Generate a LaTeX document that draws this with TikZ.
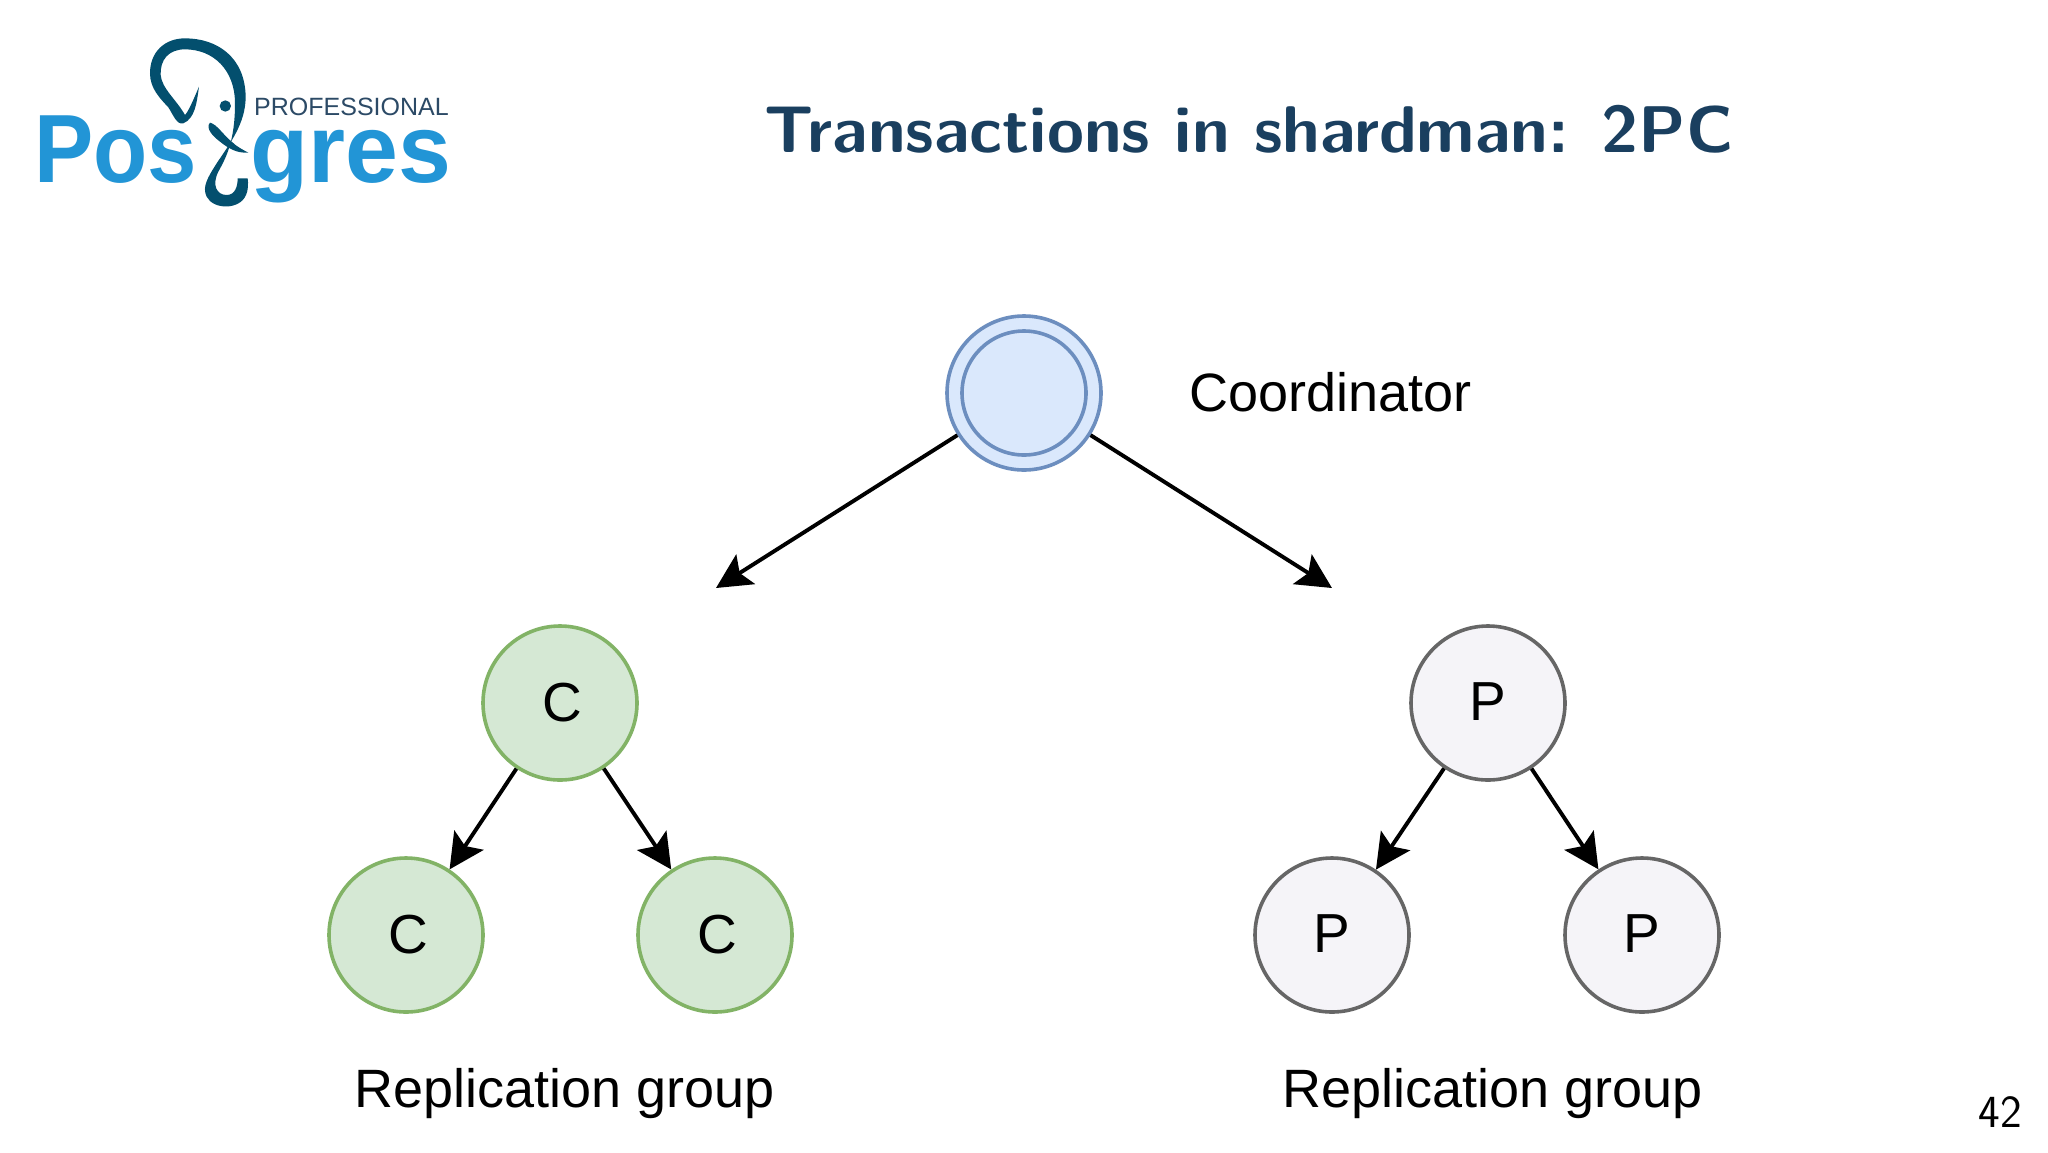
\documentclass[tikz,border=0pt]{standalone}
\usepackage{fontspec}
\usetikzlibrary{arrows.meta}
\setmainfont{Liberation Sans}
\newfontfamily\logofont{Liberation Sans Bold}
\definecolor{logoblue}{HTML}{2295D6}
\definecolor{logodark}{HTML}{034F6E}
\definecolor{logotext}{HTML}{2C4A66}
\definecolor{titleblue}{HTML}{1A3F5F}
\definecolor{blueline}{HTML}{6C8EBF}
\definecolor{bluefill}{HTML}{DAE8FC}
\definecolor{greenline}{HTML}{82B366}
\definecolor{greenfill}{HTML}{D5E8D4}
\definecolor{greyline}{HTML}{666666}
\definecolor{greyfill}{HTML}{F5F4F8}
\tikzset{
  px/.style={x=1pt,y=-1pt},
  base circle/.style={circle,inner sep=0pt,minimum size=154pt,line width=3.6pt,
     font=\fontsize{55}{60}\selectfont,text=black},
  greencirc/.style={base circle,draw=greenline,fill=greenfill},
  greycirc/.style={base circle,draw=greyline,fill=greyfill},
  bluecirc/.style={base circle,draw=blueline,fill=bluefill},
  bluecircin/.style={circle,inner sep=0pt,minimum size=124pt,line width=3.6pt,draw=blueline,fill=bluefill},
  conn/.style={line width=3.9pt,black,-{Stealth[length=35pt,width=35pt,inset=7pt]}},
  lab/.style={font=\fontsize{54}{60}\selectfont,text=black,inner sep=0pt},
}
\begin{document}
\begin{tikzpicture}[px]
\useasboundingbox (0,0) rectangle (2048,1152);
\fill[white] (0,0) rectangle (2048,1152);

% logo
\node[anchor=base west,inner sep=0pt,text=logoblue,font=\logofont\fontsize{97}{97}\selectfont] (logopos) at (34,182) {\scalebox{0.915}[1]{Pos}};
\node[anchor=base west,inner sep=0pt,text=logoblue,font=\logofont\fontsize{97}{97}\selectfont] (logogres) at (250,182) {\scalebox{0.98}[1]{gres}};
\node[anchor=base west,inner sep=0pt,text=logotext,font=\fontsize{25}{26}\selectfont] (logoprof) at (254,115) {PROFESSIONAL};
\begin{scope}[x=0.33333pt,y=-0.33333pt,yshift=-20pt]
\fill[logodark] (597,200) .. controls (590,250) and (585,295) .. (550,310)
  .. controls (530,315) and (520,285) .. (505,262)
  .. controls (480,235) and (450,205) .. (450,160)
  .. controls (450,95) and (495,55) .. (555,55)
  .. controls (650,55) and (735,110) .. (737,230)
  .. controls (737,310) and (690,370) .. (650,430)
  .. controls (625,470) and (605,500) .. (620,530)
  .. controls (640,570) and (720,570) .. (738,525)
  .. controls (745,510) and (745,490) .. (743,475)
  -- (713,475)
  .. controls (713,500) and (705,525) .. (680,525)
  .. controls (650,525) and (635,495) .. (655,455)
  .. controls (680,410) and (705,360) .. (705,250)
  .. controls (705,150) and (640,88) .. (555,88)
  .. controls (505,88) and (480,120) .. (482,165)
  .. controls (485,205) and (530,240) .. (555,285)
  .. controls (565,275) and (580,240) .. (597,200) -- cycle;
\fill[logodark] (630,308) .. controls (650,312) and (670,345) .. (695,365)
  .. controls (710,380) and (730,390) .. (745,398)
  .. controls (710,400) and (685,385) .. (660,365)
  .. controls (640,350) and (615,325) .. (630,308) -- cycle;
\fill[logodark] (676,258) circle[radius=17];
\end{scope}

% title
\node[inner sep=0pt,text=titleblue,font=\sffamily\bfseries\fontsize{66}{72}\selectfont] (title) at (1249,129) {\scalebox{1.02}[1]{Transactions in shardman: 2PC}};

% nodes
\node[bluecirc] (coord) at (1024,393) {};
\node[bluecircin] (coordin) at (1024,393) {};
\node[lab,anchor=west] (coordlab) at (1189,392) {Coordinator};
\coordinate (leftend) at (716,588);
\coordinate (rightend) at (1332,588);

\node[greencirc] (c1) at (560,703) {\hspace{5pt}\raisebox{2pt}{C}};
\node[greencirc] (c2) at (406,935) {\hspace{5pt}\raisebox{2pt}{C}};
\node[greencirc] (c3) at (715,935) {\hspace{5pt}\raisebox{2pt}{C}};
\node[greycirc] (p1) at (1488,703) {\raisebox{2pt}{P}\hspace{6pt}};
\node[greycirc] (p2) at (1332,935) {\raisebox{2pt}{P}\hspace{6pt}};
\node[greycirc] (p3) at (1642,935) {\raisebox{2pt}{P}\hspace{6pt}};

\node[lab] (rg1) at (565,1094) {Replication group};
\node[lab] (rg2) at (1493,1094) {Replication group};
\node[inner sep=0pt,font=\sffamily\fontsize{46}{50}\selectfont,text=black] (pg) at (2000,1112) {42};

% connectors
\draw[conn] (coord) -- (leftend);
\draw[conn] (coord) -- (rightend);
\draw[conn] (c1) -- (c2);
\draw[conn] (c1) -- (c3);
\draw[conn] (p1) -- (p2);
\draw[conn] (p1) -- (p3);
\end{tikzpicture}
\end{document}
